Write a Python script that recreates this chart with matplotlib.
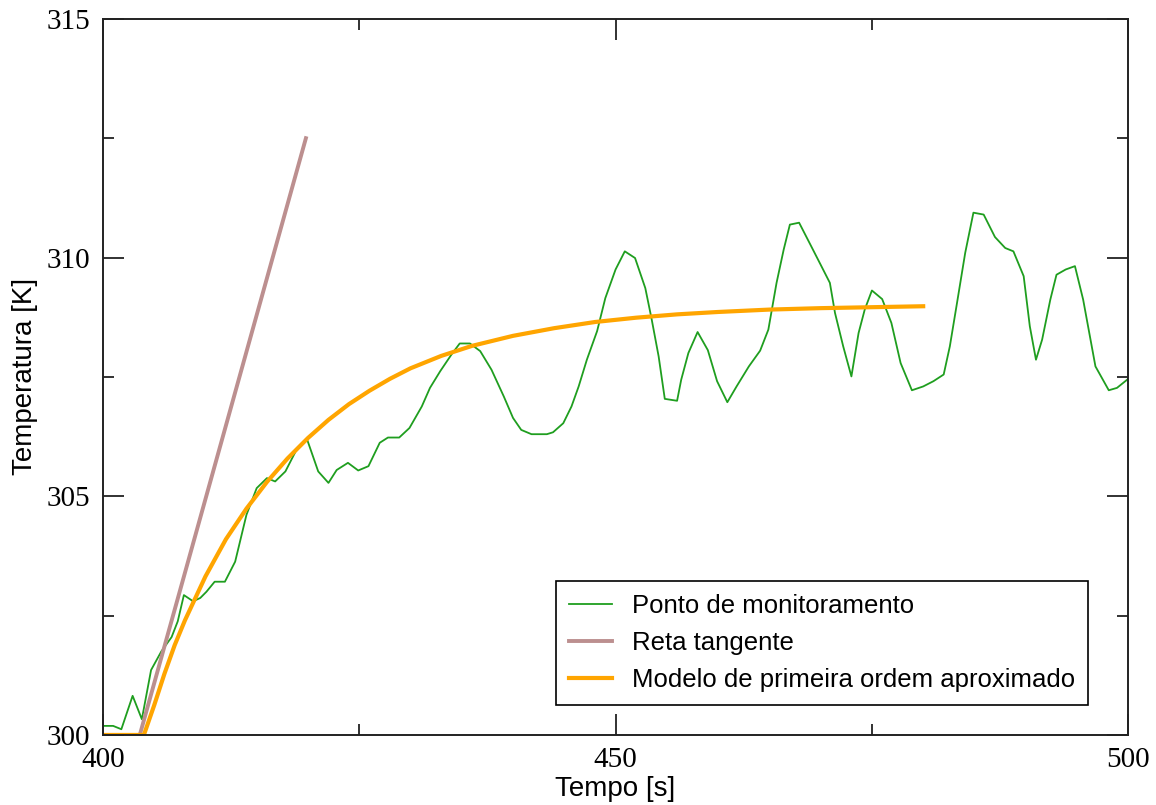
# -*- coding: utf-8 -*-
"""
Resposta ao degrau - ponto de monitoramento, reta tangente e modelo de 1a ordem
"""

import matplotlib
matplotlib.use("Agg")
import matplotlib.pyplot as plt
from matplotlib.ticker import MultipleLocator

# ponto de monitoramento (tempo [s], temperatura [K])
t_monit = [400.0, 401.0, 401.8, 402.9, 403.8, 404.7, 405.7, 406.7, 407.3, 407.9,
           408.8, 409.5, 410.1, 410.9, 411.9, 412.9, 414.0, 415.0, 416.0, 416.8,
           417.8, 418.8, 419.9, 421.0, 422.0, 422.8, 423.9, 424.9, 425.9, 427.0,
           427.8, 428.9, 429.9, 431.1, 431.9, 432.9, 434.0, 434.8, 435.8, 436.8,
           437.9, 439.1, 440.0, 440.8, 441.8, 443.3, 443.9, 444.9, 445.7, 446.4,
           447.2, 448.2, 449.0, 450.0, 450.9, 451.9, 452.9, 453.5, 454.2, 454.8,
           456.0, 456.4, 457.1, 458.0, 459.0, 459.9, 460.9, 461.8, 463.0, 464.1,
           464.9, 465.7, 466.4, 467.0, 467.9, 469.0, 470.0, 470.9, 471.4, 472.2,
           473.0, 473.7, 474.3, 475.0, 476.0, 476.9, 477.8, 478.9, 480.0, 481.0,
           482.0, 482.6, 483.3, 484.1, 484.9, 485.9, 487.0, 488.0, 488.8, 489.8,
           490.4, 491.0, 491.6, 492.4, 493.0, 493.9, 494.8, 495.6, 496.8, 498.1,
           498.9, 500.0]
T_monit = [300.19, 300.19, 300.12, 300.82, 300.33, 301.36, 301.75, 302.05, 302.38, 302.93,
           302.80, 302.87, 303.00, 303.21, 303.21, 303.63, 304.61, 305.17, 305.38, 305.31,
           305.52, 305.94, 306.20, 305.52, 305.28, 305.55, 305.70, 305.54, 305.63, 306.12,
           306.23, 306.23, 306.43, 306.88, 307.27, 307.62, 307.97, 308.20, 308.20, 308.04,
           307.65, 307.09, 306.64, 306.39, 306.30, 306.30, 306.34, 306.53, 306.88, 307.30,
           307.86, 308.46, 309.15, 309.75, 310.13, 309.99, 309.36, 308.73, 307.93, 307.04,
           307.00, 307.44, 308.00, 308.44, 308.06, 307.41, 306.97, 307.30, 307.72, 308.05,
           308.49, 309.47, 310.17, 310.69, 310.73, 310.27, 309.85, 309.47, 308.84, 308.14,
           307.51, 308.42, 308.91, 309.31, 309.13, 308.63, 307.79, 307.22, 307.30, 307.41,
           307.55, 308.14, 309.05, 310.10, 310.94, 310.90, 310.43, 310.20, 310.13, 309.61,
           308.56, 307.86, 308.28, 309.12, 309.64, 309.75, 309.82, 309.12, 307.72, 307.22,
           307.27, 307.46]

# reta tangente
t_tang = [403.6, 419.8]
T_tang = [300.0, 312.5]

# modelo de primeira ordem aproximado
t_modelo = [400, 404, 405, 406, 407, 408, 410, 412, 414, 416, 418, 420, 422, 424,
            426, 428, 430, 433, 436, 440, 444, 448, 452, 456, 460, 465, 470, 475, 480]
T_modelo = [300.00, 300.00, 300.62, 301.28, 301.88, 302.40, 303.32, 304.10, 304.74,
            305.30, 305.79, 306.22, 306.60, 306.93, 307.21, 307.46, 307.68, 307.94,
            308.15, 308.36, 308.52, 308.65, 308.74, 308.81, 308.86, 308.91, 308.94,
            308.96, 308.98]

fig = plt.figure(figsize=(11.56, 8.05), dpi=100)
ax = fig.add_axes([0.089, 0.087, 0.887, 0.8896])

ax.plot(t_monit, T_monit, color='#1f9e1f', lw=1.3, label='Ponto de monitoramento')
ax.plot(t_tang, T_tang, color='#bc8f8f', lw=2.8, label='Reta tangente')
ax.plot(t_modelo, T_modelo, color='#ffa500', lw=3.0, label='Modelo de primeira ordem aproximado')

ax.set_xlim(400, 500)
ax.set_ylim(300, 315)

# ticks estilo Grace: para dentro, nos quatro lados
ax.xaxis.set_major_locator(MultipleLocator(50))
ax.xaxis.set_minor_locator(MultipleLocator(25))
ax.yaxis.set_major_locator(MultipleLocator(5))
ax.yaxis.set_minor_locator(MultipleLocator(2.5))
ax.tick_params(which='both', direction='in', top=True, right=True, width=1.3, color='#222222')
ax.tick_params(which='major', length=15, pad=9)
ax.tick_params(which='minor', length=8)
for lbl in ax.get_xticklabels() + ax.get_yticklabels():
    lbl.set_family('Liberation Serif')
    lbl.set_fontsize(21)

for s in ax.spines.values():
    s.set_linewidth(1.4)
    s.set_color('#222222')

ax.set_xlabel('Tempo [s]', family='Liberation Sans', fontsize=20, labelpad=2)
ax.set_ylabel('Temperatura [K]', family='Liberation Sans', fontsize=20, labelpad=6)

leg = ax.legend(loc='lower right', bbox_to_anchor=(0.961, 0.042), borderaxespad=0,
                prop={'family': 'Liberation Sans', 'size': 18.5},
                fancybox=False, framealpha=1, edgecolor='black',
                handlelength=1.65, handletextpad=0.8, labelspacing=0.5,
                borderpad=0.5)
leg.get_frame().set_linewidth(1.2)

plt.savefig('out.png', dpi=100)
plt.close(fig)
